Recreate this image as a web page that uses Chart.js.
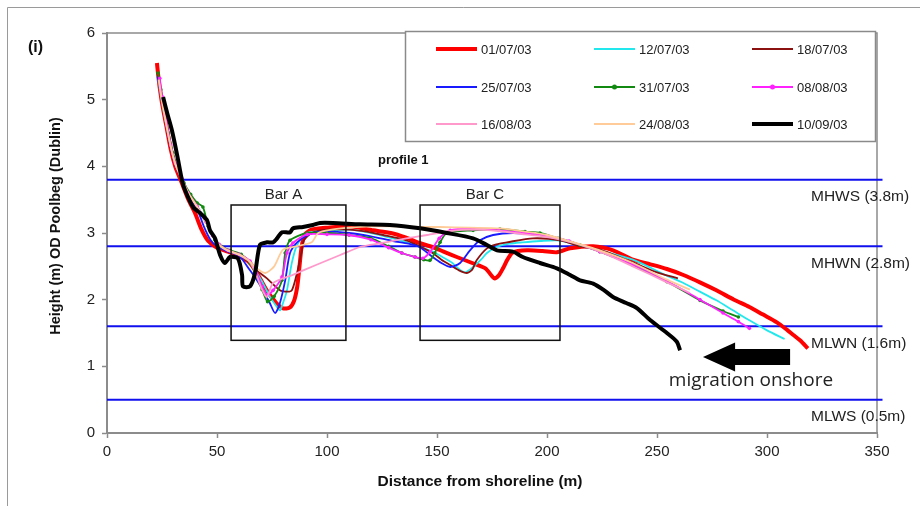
<!DOCTYPE html>
<html>
<head>
<meta charset="utf-8">
<script src="https://cdn.jsdelivr.net/npm/chart.js@4.4.1/dist/chart.umd.min.js"></script>
<style>
  body { margin: 0; background: #fff; }
  #wrap { width: 920px; height: 506px; }
</style>
</head>
<body>
<div id="wrap"><canvas id="profileChart" width="920" height="506"></canvas></div>
<script>
// survey dates and styles
var seriesNames = ['01/07/03', '12/07/03', '18/07/03', '25/07/03', '31/07/03', '08/08/03', '16/08/03', '24/08/03', '10/09/03'];
var seriesColors = ['#ff0000', '#22e8ee', '#8b1010', '#1a1aff', '#128a12', '#ff22ff', '#ff99cc', '#ffcc99', '#000000'];
var seriesWidths = [4, 1.8, 1.8, 1.8, 1.8, 1.8, 1.8, 1.8, 4];
var seriesMarkers = [false, false, false, false, true, true, false, false, false];

// profiles [distance, height]
var p010703 = [[22.7,5.55],[23.5,5.3],[25,4.95],[27,4.6],[29,4.25],[31,4.0],[34,3.75],[37,3.5],[40,3.3],[43,3.05],[46,2.88],[50,2.78],[55,2.72],[60,2.66],[65,2.55],[69,2.35],[73,2.12],[77,1.95],[80,1.87],[83,1.88],[85,1.98],[86.5,2.2],[87.5,2.5],[88.5,2.8],[90,2.98],[93,3.05],[100,3.08],[110,3.1],[121,3.04],[129,3.0],[136,2.93],[142,2.85],[148,2.79],[153,2.72],[159,2.64],[166,2.55],[172,2.47],[176,2.32],[178,2.36],[180,2.47],[182,2.6],[184.5,2.71],[191,2.74],[198,2.73],[204.5,2.71],[210.5,2.77],[221,2.8],[230,2.74],[239,2.6],[247,2.53],[254.5,2.46],[262,2.37],[269.5,2.26],[277,2.14],[285,2.0],[292,1.89],[298,1.78],[304.5,1.66],[309,1.55],[312,1.47],[315,1.39],[318.6,1.27]];
var p120703 = [[23,5.35],[25,4.95],[27,4.6],[29,4.3],[31,4.05],[34,3.82],[37,3.6],[41,3.4],[45,3.18],[48,2.97],[51,2.82],[55,2.74],[60,2.68],[65,2.55],[70,2.3],[74,2.05],[77,1.9],[78.6,1.84],[80,1.95],[81.8,2.14],[84,2.55],[86.4,2.82],[91,3.0],[100,3.03],[110,3.05],[120,3.0],[130,2.92],[140,2.82],[148,2.72],[153,2.63],[157,2.55],[160,2.46],[162.7,2.41],[166.4,2.49],[170,2.6],[172.7,2.7],[177,2.79],[183,2.84],[189,2.86],[197,2.88],[204.5,2.89],[212,2.84],[224,2.74],[239,2.6],[254.5,2.36],[262,2.25],[269.5,2.12],[277,1.99],[284.5,1.84],[292,1.69],[300,1.54],[308,1.41]];
var p180703 = [[23,5.4],[25,4.97],[27,4.6],[29,4.28],[31,4.03],[34,3.8],[37,3.59],[41,3.38],[45,3.16],[48,2.96],[51,2.81],[55,2.72],[60,2.66],[65,2.55],[68,2.44],[72.7,2.32],[78.6,2.14],[82,2.12],[84,2.14],[86,2.35],[87,2.49],[88.6,2.74],[89.5,2.89],[93,3.0],[100,3.05],[110,3.05],[118,3.02],[125.5,2.97],[136,2.89],[142,2.8],[148,2.7],[152,2.6],[156,2.52],[160,2.44],[163.6,2.4],[166,2.45],[168,2.59],[172.7,2.77],[177,2.83],[181.8,2.86],[193.6,2.92],[206,2.89],[215,2.8],[224,2.75],[239,2.56],[250,2.41],[259.5,2.32]];
var p250703 = [[23,5.35],[25,4.97],[27,4.6],[29,4.27],[31,4.02],[34,3.8],[37,3.58],[41,3.36],[44,3.1],[47,2.9],[50,2.8],[55,2.72],[60,2.66],[65,2.44],[68,2.3],[71,2.14],[74,1.95],[76.4,1.8],[78.6,1.95],[81,2.29],[83.2,2.7],[86.4,2.86],[93.6,3.0],[100,3.02],[110,3.0],[120,2.95],[130,2.88],[137,2.84],[142,2.79],[148,2.64],[152,2.55],[156,2.49],[160.5,2.55],[165,2.74],[169.5,2.89],[175.5,2.97],[184.5,3.0],[196.8,2.97],[206,2.91],[212,2.86]];
var p310703 = [[23.2,5.4],[24.5,5.15],[26,4.85],[28,4.5],[30,4.2],[32,3.98],[35,3.75],[38,3.58],[41,3.45],[43.6,3.39],[46,3.1],[49,2.9],[52,2.8],[56,2.74],[61,2.68],[65,2.55],[68,2.35],[70.5,2.15],[73,1.97],[76,2.05],[79.5,2.29],[81,2.7],[83.2,2.89],[91,3.0],[100,3.0],[110,2.97],[120,2.92],[128,2.8],[134,2.7],[140,2.64],[144,2.6],[146.8,2.59],[149,2.7],[151.4,2.86],[154.5,3.0],[166.4,3.04],[178.6,3.06],[190,3.02],[196.8,3.0],[205,2.92],[215,2.82],[224,2.72],[239,2.52],[254.5,2.27],[269.5,1.99],[280,1.83],[287,1.74]];
var p080803 = [[24,5.32],[25,5.05],[27,4.68],[29,4.32],[31,4.05],[34,3.82],[37,3.6],[41,3.4],[45,3.17],[48,2.96],[51,2.83],[55,2.74],[60,2.68],[65,2.58],[68,2.4],[70.5,2.2],[72.7,2.07],[75.5,2.14],[79.5,2.34],[81.8,2.7],[84.5,2.85],[91,2.98],[100,2.98],[110,2.97],[120,2.9],[128,2.78],[134,2.7],[140,2.64],[143.6,2.62],[147,2.72],[151,2.92],[156,3.04],[166,3.06],[178,3.04],[190,3.0],[200,2.96],[210,2.88],[224,2.72],[239,2.53],[254.5,2.28],[269.5,2.0],[280,1.8],[287,1.67],[292,1.57]];
var p160803 = [[23.5,5.3],[25,4.98],[27,4.62],[29,4.29],[31,4.03],[34,3.8],[37,3.59],[41,3.39],[45,3.16],[48,2.96],[51,2.82],[55,2.73],[60,2.67],[65,2.56],[68,2.36],[70.5,2.15],[72.7,2.04],[75.5,2.25],[85,2.38],[95,2.52],[106,2.67],[115,2.79],[125,2.85],[136,2.92],[145.5,2.97],[156,3.03],[166,3.05],[178,3.03],[190,2.98],[200,2.94],[210,2.87],[224,2.72],[239,2.5],[254.5,2.26],[265,2.1]];
var p240803 = [[23.5,5.3],[25,4.97],[27,4.61],[29,4.29],[31,4.04],[34,3.81],[37,3.6],[41,3.39],[45,3.17],[48,2.97],[51,2.82],[55,2.74],[60,2.68],[64,2.6],[68,2.47],[72,2.4],[76,2.5],[80,2.75],[86,2.8],[93,2.86],[96,3.0],[102,3.05],[110,3.08],[120,3.1],[130,3.1],[142,3.09],[151,3.09],[165,3.08],[178.6,3.07],[190,3.02],[200,2.97],[210,2.88],[224,2.74],[239,2.55],[254.5,2.3],[265,2.15]];
var p100903 = [[25.5,5.04],[27.5,4.78],[29.5,4.54],[32,4.15],[34.1,3.79],[35.5,3.64],[39.1,3.39],[43,3.28],[45.5,3.19],[46.8,3.04],[49.1,2.92],[51.4,2.67],[53.6,2.55],[55.9,2.64],[59.5,2.62],[61.4,2.37],[61.8,2.2],[65,2.2],[67.3,2.4],[69.5,2.82],[72.7,2.86],[75.5,2.86],[77.3,2.92],[79.5,3.01],[83.2,3.01],[84.5,3.07],[89.1,3.09],[93.6,3.12],[96.8,3.15],[102.7,3.15],[115,3.13],[128.6,3.12],[142.3,3.07],[154.5,3.0],[166.4,2.92],[172.7,2.82],[177.3,2.74],[184.5,2.72],[189,2.64],[196.8,2.55],[204.5,2.47],[210.5,2.37],[215,2.29],[221,2.24],[226,2.14],[230,2.04],[236,1.95],[241,1.87],[247,1.69],[254.5,1.5],[259,1.37],[260.5,1.24]];
var profiles = [p010703, p120703, p180703, p250703, p310703, p080803, p160803, p240803, p100903];

// tide levels
var tideNames = ['MHWS (3.8m)', 'MHWN (2.8m)', 'MLWN (1.6m)', 'MLWS (0.5m)'];
var tideLevels = [3.8, 2.8, 1.6, 0.5];

// bar boxes [xmin, xmax, ymin, ymax]
var barNames = ['Bar A', 'Bar C'];
var barBoxes = [[56.4, 108.6, 1.39, 3.42], [142.3, 205.9, 1.39, 3.42]];

var xTicks = [0, 50, 100, 150, 200, 250, 300, 350];
var yTicks = [0, 1, 2, 3, 4, 5, 6];

var FONT = '"Liberation Sans", Arial, sans-serif';

var datasets = profiles.map(function (pts, i) {
    return {
        label: seriesNames[i],
        data: pts.map(function (p) { return { x: p[0], y: p[1] }; }),
        borderColor: seriesColors[i],
        backgroundColor: seriesColors[i],
        borderWidth: seriesWidths[i],
        pointRadius: seriesMarkers[i] ? 1.8 : 0,
        pointBorderWidth: 0,
        showLine: true,
        tension: 0.25,
        order: profiles.length - i
    };
});
tideLevels.forEach(function (lvl) {
    datasets.push({
        label: 'tide',
        data: [{ x: 0, y: lvl }, { x: 352.5, y: lvl }],
        borderColor: '#1010ee',
        borderWidth: 2,
        pointRadius: 0,
        showLine: true,
        clip: { left: 0, top: 0, right: 8, bottom: 0 },
        order: 100
    });
});

var extras = {
    id: 'extras',
    beforeDatasetsDraw: function (chart) {
        var c = chart.ctx, a = chart.chartArea;
        c.save();
        c.strokeStyle = '#8c8c8c';
        c.lineWidth = 1.5;
        c.beginPath();
        c.moveTo(a.left, a.top); c.lineTo(a.right, a.top); c.lineTo(a.right, a.bottom);
        c.stroke();
        c.restore();
    },
    afterDatasetsDraw: function (chart) {
        var c = chart.ctx, xs = chart.scales.x, ys = chart.scales.y;
        c.save();
        // bar boxes
        c.strokeStyle = '#111';
        c.lineWidth = 1.5;
        c.fillStyle = '#222';
        c.font = '15px ' + FONT;
        c.textAlign = 'center';
        c.textBaseline = 'middle';
        barBoxes.forEach(function (b, i) {
            var x0 = xs.getPixelForValue(b[0]), x1 = xs.getPixelForValue(b[1]);
            var y0 = ys.getPixelForValue(b[3]), y1 = ys.getPixelForValue(b[2]);
            c.strokeRect(x0, y0, x1 - x0, y1 - y0);
            c.fillText(barNames[i], (x0 + x1) / 2 - 5, y0 - 10);
        });
        // tide labels
        c.textAlign = 'left';
        c.font = '15.5px ' + FONT;
        tideLevels.forEach(function (lvl, i) {
            c.fillText(tideNames[i], 811, ys.getPixelForValue(lvl) + 17);
        });
        // profile label
        c.font = 'bold 13px ' + FONT;
        c.fillStyle = '#111';
        c.fillText('profile 1', 378, 160);
        // migration arrow
        var tip = xs.getPixelForValue(270.9), base = xs.getPixelForValue(285.5), tail = xs.getPixelForValue(310.5);
        var cy = ys.getPixelForValue(1.14);
        c.fillStyle = '#000';
        c.beginPath();
        c.moveTo(tip, cy);
        c.lineTo(base, cy - 14.5);
        c.lineTo(base, cy - 8);
        c.lineTo(tail, cy - 8);
        c.lineTo(tail, cy + 8);
        c.lineTo(base, cy + 8);
        c.lineTo(base, cy + 14.5);
        c.closePath();
        c.fill();
        c.font = '19px "Open Sans", "Noto Sans", sans-serif';
        c.textAlign = 'center';
        c.fillStyle = '#222';
        c.fillText('migration onshore', 751, 381);
        c.restore();
    },
    afterDraw: function (chart) {
        var c = chart.ctx;
        c.save();
        // outer frame
        c.strokeStyle = '#9a9a9a';
        c.lineWidth = 1;
        c.beginPath();
        c.moveTo(7.5, 506); c.lineTo(7.5, 7.5); c.lineTo(920, 7.5);
        c.stroke();
        // legend
        c.fillStyle = '#fff';
        c.fillRect(405, 31, 471, 111);
        c.strokeStyle = '#8a8a8a';
        c.lineWidth = 1.5;
        c.strokeRect(405.5, 31.5, 470, 110);
        var colX = [436, 594, 752], rowY = [49, 87, 124];
        c.font = '13px ' + FONT;
        c.textAlign = 'left';
        c.textBaseline = 'middle';
        seriesNames.forEach(function (name, i) {
            var lx = colX[i % 3], ly = rowY[Math.floor(i / 3)];
            c.strokeStyle = seriesColors[i];
            c.lineWidth = seriesWidths[i];
            c.beginPath();
            c.moveTo(lx, ly); c.lineTo(lx + 41, ly);
            c.stroke();
            if (seriesMarkers[i]) {
                c.fillStyle = seriesColors[i];
                c.beginPath();
                c.arc(lx + 20.5, ly, 2.5, 0, Math.PI * 2);
                c.fill();
            }
            c.fillStyle = '#222';
            c.fillText(name, lx + 45, ly + 1);
        });
        // titles
        c.fillStyle = '#111';
        c.font = 'bold 16px ' + FONT;
        c.fillText('(i)', 28, 48);
        c.textAlign = 'center';
        c.font = 'bold 15.5px ' + FONT;
        c.fillText('Distance from shoreline (m)', 480, 482);
        c.font = 'bold 14.5px ' + FONT;
        c.translate(56, 226);
        c.rotate(-Math.PI / 2);
        c.fillText('Height (m) OD Poolbeg (Dublin)', 0, 0);
        c.restore();
    }
};

var ctx = document.getElementById('profileChart').getContext('2d');
var profileChart = new Chart(ctx, {
    type: 'scatter',
    data: { datasets: datasets },
    options: {
        responsive: false,
        animation: false,
        layout: { padding: { left: 0, right: 43, top: 33, bottom: 0 } },
        plugins: { legend: { display: false }, tooltip: { enabled: false } },
        scales: {
            x: {
                type: 'linear', min: 0, max: 350,
                afterBuildTicks: function (s) { s.ticks = xTicks.map(function (v) { return { value: v }; }); },
                afterFit: function (s) { s.height = 73; },
                grid: { drawOnChartArea: false, tickLength: 5, tickColor: '#8c8c8c', tickWidth: 1.5 },
                border: { color: '#8c8c8c', width: 2 },
                ticks: { color: '#222', padding: 5, font: { family: FONT, size: 15 }, maxRotation: 0 }
            },
            y: {
                type: 'linear', min: 0, max: 6,
                afterBuildTicks: function (s) { s.ticks = yTicks.map(function (v) { return { value: v }; }); },
                afterFit: function (s) { s.width = 107; },
                grid: { drawOnChartArea: false, tickLength: 5, tickColor: '#8c8c8c', tickWidth: 1.5 },
                border: { color: '#8c8c8c', width: 2 },
                ticks: { color: '#222', padding: 7, font: { family: FONT, size: 15 } }
            }
        }
    },
    plugins: [extras]
});
</script>
</body>
</html>
